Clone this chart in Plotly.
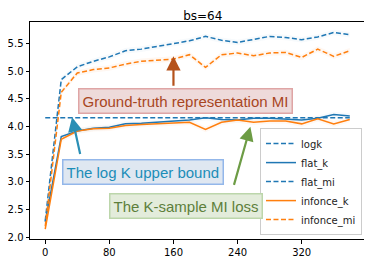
import plotly.graph_objects as go
import math

steps = [0, 20, 40, 60, 80, 100, 120, 140, 160, 180, 200, 220, 240, 260, 280, 300, 320, 340, 360, 380]
flat_k = [2.28, 3.82, 3.92, 3.97, 3.99, 4.05, 4.06, 4.08, 4.09, 4.12, 4.16, 4.13, 4.12, 4.15, 4.15, 4.13, 4.12, 4.15, 4.22, 4.19]
flat_mi = [2.30, 4.85, 5.08, 5.18, 5.26, 5.37, 5.40, 5.45, 5.50, 5.55, 5.63, 5.56, 5.52, 5.57, 5.63, 5.61, 5.57, 5.62, 5.70, 5.66]
infonce_k = [2.15, 3.77, 3.92, 3.96, 3.97, 4.02, 4.04, 4.05, 4.06, 4.08, 3.95, 4.08, 4.12, 4.08, 4.10, 4.10, 4.05, 4.14, 4.05, 4.13]
infonce_mi = [2.20, 4.62, 4.97, 5.03, 5.06, 5.13, 5.18, 5.20, 5.22, 5.30, 5.07, 5.30, 5.33, 5.28, 5.33, 5.34, 5.25, 5.40, 5.27, 5.37]
band = [0.05] * 20
logk_value = math.log(64)

BLUE = "#1f77b4"
ORANGE = "#ff7f0e"
DASH = "5px,2.5px"

fig = go.Figure()

# faint variability bands
for ys, col in [(flat_mi, "rgba(31,119,180,0.035)"), (infonce_mi, "rgba(255,127,14,0.06)"),
                (flat_k, "rgba(31,119,180,0.03)"), (infonce_k, "rgba(255,127,14,0.05)")]:
    fig.add_trace(go.Scatter(x=steps, y=[v + b for v, b in zip(ys, band)], mode="lines",
                             line=dict(width=0), showlegend=False, hoverinfo="skip"))
    fig.add_trace(go.Scatter(x=steps, y=[v - b for v, b in zip(ys, band)], mode="lines",
                             line=dict(width=0), fill="tonexty", fillcolor=col,
                             showlegend=False, hoverinfo="skip"))

fig.add_trace(go.Scatter(x=[steps[0], steps[-1]], y=[logk_value, logk_value], mode="lines", name="logk",
                         line=dict(color=BLUE, width=1.5, dash=DASH)))
fig.add_trace(go.Scatter(x=steps, y=flat_k, mode="lines", name="flat_k",
                         line=dict(color=BLUE, width=1.5)))
fig.add_trace(go.Scatter(x=steps, y=flat_mi, mode="lines", name="flat_mi",
                         line=dict(color=BLUE, width=1.5, dash=DASH)))
fig.add_trace(go.Scatter(x=steps, y=infonce_k, mode="lines", name="infonce_k",
                         line=dict(color=ORANGE, width=1.5)))
fig.add_trace(go.Scatter(x=steps, y=infonce_mi, mode="lines", name="infonce_mi",
                         line=dict(color=ORANGE, width=1.5, dash=DASH)))

annots = [
    # arrows (tail -> tip in data coords)
    dict(x=160, y=5.27, ax=160, ay=4.71, color="#b5521b"),
    dict(x=33.5, y=4.17, ax=44, ay=3.48, color="#2a8fb5"),
    dict(x=256, y=4.0, ax=235, ay=2.92, color="#6d9c45"),
]
for a in annots:
    fig.add_annotation(x=a["x"], y=a["y"], ax=a["ax"], ay=a["ay"], xref="x", yref="y",
                       axref="x", ayref="y", text="", showarrow=True, arrowhead=2,
                       arrowsize=1.3, arrowwidth=2.2, arrowcolor=a["color"])

labels = [
    dict(x=175, y=4.455, text="Ground-truth representation MI", color="#a8461f",
         bg="#eedada", border="#dfa5a5"),
    dict(x=122.5, y=3.18, text="The log K upper bound", color="#1c8db8",
         bg="#dfe7f1", border="#93b7ea"),
    dict(x=176, y=2.56, text="The K-sample MI loss", color="#5d7f3b",
         bg="#e3ecdb", border="#bcd6ab"),
]
for l in labels:
    fig.add_annotation(x=l["x"], y=l["y"], xref="x", yref="y", text=l["text"], showarrow=False,
                       font=dict(family="Liberation Sans, Arial", size=15, color=l["color"]),
                       bgcolor=l["bg"], bordercolor=l["border"], borderwidth=1.5, borderpad=3)

# page body has an 8px default margin, so the figure is 8px smaller in each direction
fig.update_layout(
    width=364, height=256,
    margin=dict(l=22, r=7, t=14, b=25, autoexpand=False),
    paper_bgcolor="white", plot_bgcolor="white",
    title=dict(text="bs=64", x=0.535, xanchor="center", y=0.986, yanchor="top",
               yref="container",
               font=dict(family="DejaVu Sans", size=12, color="black")),
    font=dict(family="DejaVu Sans", size=10, color="black"),
    showlegend=True,
    legend=dict(x=0.991, y=0.018, xanchor="right", yanchor="bottom", traceorder="normal",
                bgcolor="rgba(255,255,255,0.85)", bordercolor="#cccccc", borderwidth=1,
                font=dict(family="DejaVu Sans", size=10, color="#222222"),
                tracegroupgap=0, itemwidth=30),
)
fig.update_xaxes(range=[-19, 399], tickvals=[0, 80, 160, 240, 320], showgrid=False, zeroline=False,
                 automargin=False,
                 showline=True, linecolor="black", linewidth=1, mirror=True,
                 ticks="outside", ticklen=3.5, tickcolor="black", tickfont=dict(size=10))
fig.update_yaxes(range=[1.97, 5.89], tickvals=[2.0, 2.5, 3.0, 3.5, 4.0, 4.5, 5.0, 5.5], tickformat=".1f",
                 showgrid=False, zeroline=False, automargin=False,
                 showline=True, linecolor="black", linewidth=1, mirror=True,
                 ticks="outside", ticklen=3.5, tickcolor="black", tickfont=dict(size=10))

fig.write_html("out.html")
